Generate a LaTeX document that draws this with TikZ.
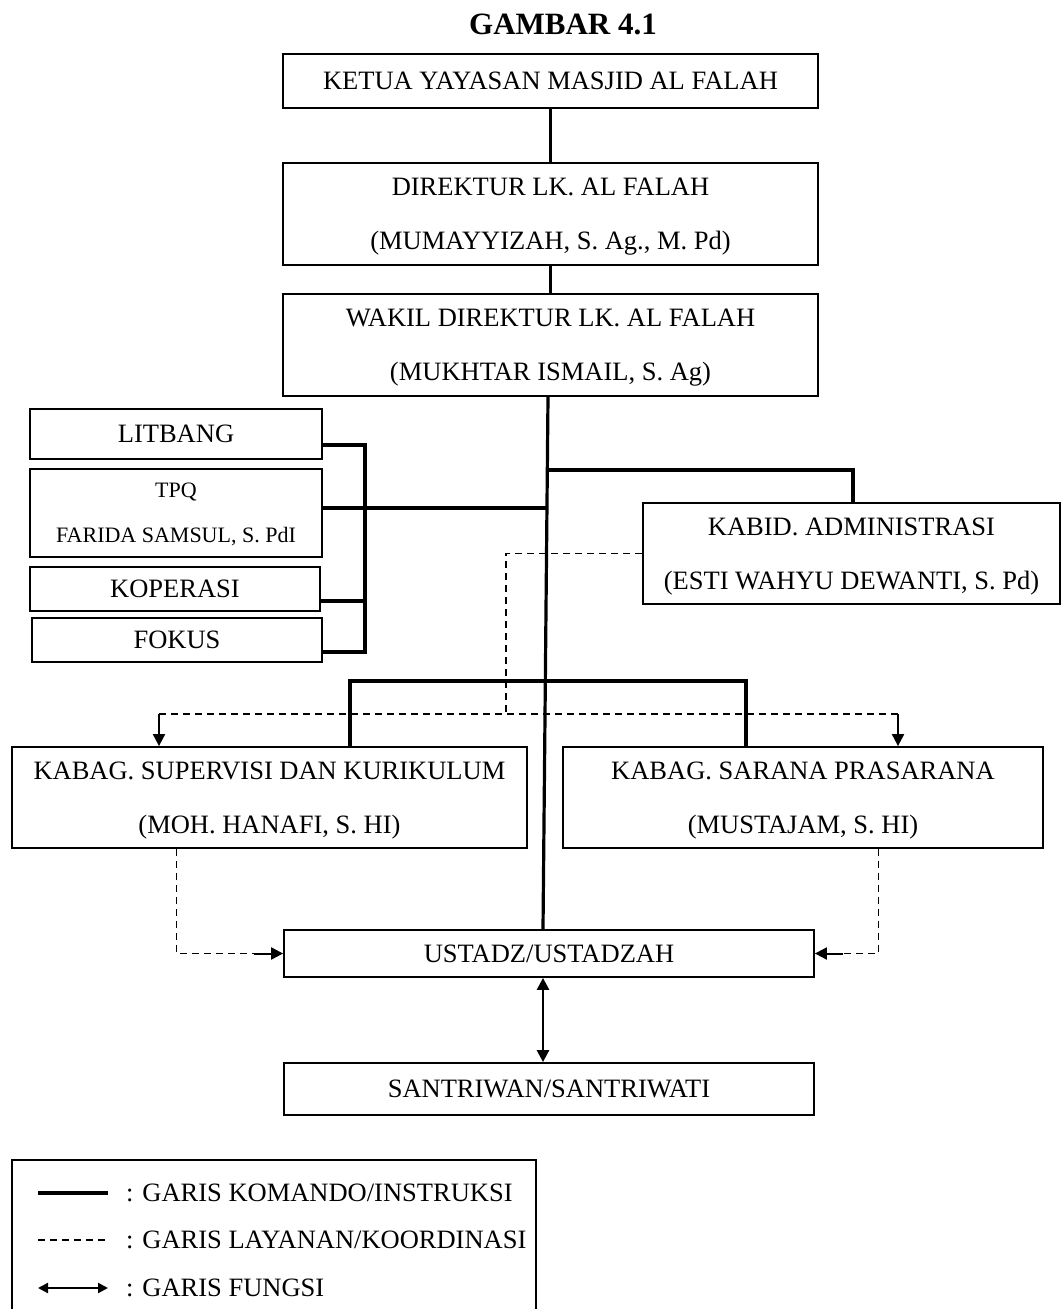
\documentclass[tikz,border=0pt]{standalone}
\usepackage{fontspec}
\setmainfont{Liberation Serif}
\usetikzlibrary{arrows.meta}
\begin{document}
\begin{tikzpicture}[x=1pt,y=-1pt,
  box/.style={draw, line width=1.8pt, inner sep=0pt, align=center, text depth=0pt, font=\fontsize{26.5}{54}\selectfont},
  cmd/.style={line width=3.2pt},
  svc/.style={line width=1.4pt, dash pattern=on 7pt off 5pt},
  stem/.style={line width=2pt},
  tip/.style={-{Triangle[length=12pt,width=12pt]}},
  legtext/.style={anchor=west, inner sep=0pt, text depth=0pt, font=\fontsize{26.5}{30}\selectfont}
]
\useasboundingbox (0,0) rectangle (1062,1309);

\node[font=\fontsize{31}{31}\selectfont\bfseries, text depth=0pt, inner sep=0pt] (title) at (563,24.5) {GAMBAR 4.1};

\node[box, minimum width=535pt, minimum height=54pt] (ketua) at (550.5,81) {KETUA YAYASAN MASJID AL FALAH};
\node[box, minimum width=535pt, minimum height=102pt] (dir) at (550.5,214) {DIREKTUR LK. AL FALAH\\(MUMAYYIZAH, S. Ag., M. Pd)};
\node[box, minimum width=535pt, minimum height=102pt] (wakil) at (550.5,345) {WAKIL DIREKTUR LK. AL FALAH\\(MUKHTAR ISMAIL, S. Ag)};
\node[box, minimum width=292pt, minimum height=50pt] (litbang) at (176,434) {LITBANG};
\node[box, minimum width=292pt, minimum height=88pt, font=\fontsize{22}{45}\selectfont] (tpq) at (176,513) {TPQ\\FARIDA SAMSUL, S. PdI};
\node[box, minimum width=290pt, minimum height=44pt] (kop) at (175,589) {KOPERASI};
\node[box, minimum width=290pt, minimum height=44pt] (fokus) at (177,640) {FOKUS};
\node[box, minimum width=417pt, minimum height=101pt] (kabid) at (851.5,553.5) {KABID. ADMINISTRASI\\(ESTI WAHYU DEWANTI, S. Pd)};
\node[box, minimum width=515pt, minimum height=101pt] (sup) at (269.5,797.5) {KABAG. SUPERVISI DAN KURIKULUM\\(MOH. HANAFI, S. HI)};
\node[box, minimum width=480pt, minimum height=101pt] (sar) at (803,797.5) {KABAG. SARANA PRASARANA\\(MUSTAJAM, S. HI)};
\node[box, minimum width=530pt, minimum height=47pt] (ust) at (549,953.5) {USTADZ/USTADZAH};
\node[box, minimum width=530pt, minimum height=52pt] (san) at (549,1089) {SANTRIWAN/SANTRIWATI};

% command lines
\draw[cmd] (ketua.south) -- (dir.north);
\draw[cmd] (dir.south) -- (wakil.north);
\draw[cmd] ([xshift=-2.5pt]wakil.south) -- ([xshift=-6pt]ust.north);
\draw[cmd] (547.3,470) -| ([xshift=1.5pt]kabid.north);
\draw[cmd] ([yshift=5pt]tpq.east) -- (547,508);
\draw[cmd] ([yshift=-11pt]litbang.east) -| (365,652) -- ([yshift=-12pt]fokus.east);
\draw[cmd] ([yshift=-12pt]kop.east) -- (365,601);
\draw[cmd] ([xshift=80.5pt]sup.north) |- (545.3,681) -| ([xshift=-57pt]sar.north);

% service / coordination lines
\draw[svc] (kabid.west) -| (506,714);
\draw[svc] (159,714) -- (898,714);
\draw[stem, tip] (159,714) -- ([xshift=-110.5pt]sup.north);
\draw[stem, tip] (898,714) -- ([xshift=95pt]sar.north);
\draw[svc] ([xshift=-93pt]sup.south) |- (254,953.5);
\draw[stem, tip] (254,953.5) -- (ust.west);
\draw[svc] ([xshift=75.5pt]sar.south) |- (843,953.5);
\draw[stem, tip] (843,953.5) -- (ust.east);

% function line
\draw[line width=2.6pt, {Triangle[length=12pt,width=12pt]}-{Triangle[length=12pt,width=12pt]}] ([xshift=-6pt]ust.south) -- ([xshift=-6pt]san.north);

% legend
\draw[line width=1.8pt] (12,1309) -- (12,1160) -- (536,1160) -- (536,1309);
\draw[line width=3.5pt] (38,1193) -- (108,1193);
\draw[svc] (38,1240) -- (108,1240);
\draw[line width=2.2pt, {Triangle[length=10pt,width=10pt]}-{Triangle[length=10pt,width=10pt]}] (38,1288) -- (108,1288);
\node[legtext] (l1) at (126,1193) {: GARIS KOMANDO/INSTRUKSI};
\node[legtext] (l2) at (126,1240) {: GARIS LAYANAN/KOORDINASI};
\node[legtext] (l3) at (126,1288) {: GARIS FUNGSI};
\end{tikzpicture}
\end{document}
